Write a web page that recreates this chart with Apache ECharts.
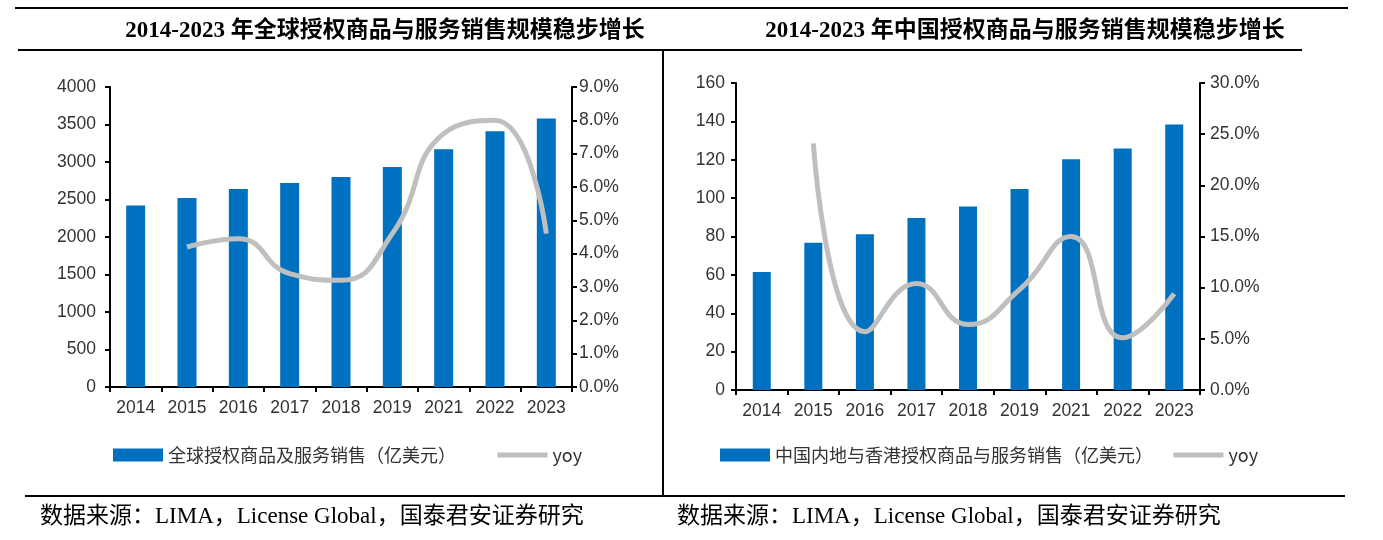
<!DOCTYPE html>
<html>
<head>
<meta charset="utf-8">
<script src="https://cdn.jsdelivr.net/npm/echarts@6/dist/echarts.min.js"></script>
<style>
  html, body { margin: 0; padding: 0; background: #fff; }
  #main { width: 1383px; height: 540px; }
</style>
</head>
<body>
<div id="main"></div>
<script>
// data
var years = ['2014', '2015', '2016', '2017', '2018', '2019', '2021', '2022', '2023'];
var globalSales = [2420, 2520, 2640, 2720, 2800, 2935, 3170, 3410, 3580];
var globalYoy = [null, 4.2, 4.45, 3.4, 3.2, 4.6, 7.6, 8.0, 4.6];
var chinaSales = [61.5, 76.7, 81.2, 89.7, 95.7, 104.7, 120.2, 125.9, 138.4];
var chinaYoy = [null, 24.1, 5.7, 10.4, 6.4, 9.8, 15.0, 5.1, 9.4];

var globalName = '全球授权商品及服务销售（亿美元）';
var chinaName = '中国内地与香港授权商品与服务销售（亿美元）';
var titleLeft = '2014-2023 年全球授权商品与服务销售规模稳步增长';
var titleRight = '2014-2023 年中国授权商品与服务销售规模稳步增长';
var sourceText = '数据来源：LIMA，License Global，国泰君安证券研究';

var barColor = '#0070C0';
var lineColor = '#BFBFBF';
var labelColor = '#333';
var axisFont = 'Liberation Sans';
var axisSize = 17.5;
var titleFont = 'bold 23px "Liberation Serif", "Noto Sans CJK SC"';
var srcFont = '23px "Liberation Serif", "Noto Sans CJK SC"';

var myChart = echarts.init(document.getElementById('main'), null, { renderer: 'canvas' });

function catAxis(gi) {
    return {
        type: 'category',
        gridIndex: gi,
        data: years,
        axisLine: { lineStyle: { color: '#000', width: 2 } },
        axisTick: { show: true, length: 5, lineStyle: { color: '#000', width: 2 } },
        axisLabel: { color: labelColor, fontSize: axisSize, fontFamily: axisFont, margin: 12 }
    };
}

function valAxis(gi, pos, max, step, pct, margin) {
    return {
        type: 'value',
        gridIndex: gi,
        position: pos,
        min: 0,
        max: max,
        interval: step,
        splitLine: { show: false },
        axisLine: { show: true, lineStyle: { color: '#000', width: 2 } },
        axisTick: { show: true, length: 5, lineStyle: { color: '#000', width: 2 } },
        axisLabel: {
            color: labelColor,
            fontSize: axisSize,
            fontFamily: axisFont,
            margin: margin,
            formatter: function (v) { return pct ? v.toFixed(1) + '%' : String(v); }
        }
    };
}

function hline(x1, x2, y) {
    return { type: 'line', shape: { x1: x1, y1: y, x2: x2, y2: y }, style: { stroke: '#000', lineWidth: 2 } };
}

var legendText = { color: labelColor, fontSize: 18, fontFamily: 'Noto Sans CJK SC' };

function yoyLabel(n) {
    return n.indexOf('yoy') === 0 ? 'yoy' : n;
}

var option = {
    animation: false,
    grid: [
        { left: 110, top: 87, width: 462, height: 300 },
        { left: 736, top: 83, width: 464, height: 307 }
    ],
    xAxis: [catAxis(0), catAxis(1)],
    yAxis: [
        valAxis(0, 'left', 4000, 500, false, 14),
        valAxis(0, 'right', 9, 1, true, 7),
        valAxis(1, 'left', 160, 20, false, 11),
        valAxis(1, 'right', 30, 5, true, 10)
    ],
    legend: [
        {
            left: 113, top: 446, padding: 0,
            itemWidth: 50, itemHeight: 13, itemGap: 39,
            textStyle: legendText,
            data: [
                { name: globalName, icon: 'rect' },
                { name: 'yoy_g', itemStyle: { opacity: 0 }, lineStyle: { width: 5, color: lineColor } }
            ],
            formatter: yoyLabel
        },
        {
            left: 720, top: 446, padding: 0,
            itemWidth: 50, itemHeight: 13, itemGap: 18,
            textStyle: legendText,
            data: [
                { name: chinaName, icon: 'rect' },
                { name: 'yoy_c', itemStyle: { opacity: 0 }, lineStyle: { width: 5, color: lineColor } }
            ],
            formatter: yoyLabel
        }
    ],
    series: [
        {
            name: globalName, type: 'bar', xAxisIndex: 0, yAxisIndex: 0,
            data: globalSales, barWidth: 19,
            itemStyle: { color: barColor }
        },
        {
            name: 'yoy_g', type: 'line', xAxisIndex: 0, yAxisIndex: 1,
            data: globalYoy, smooth: 0.5, showSymbol: false,
            lineStyle: { color: lineColor, width: 5 },
            itemStyle: { color: lineColor }
        },
        {
            name: chinaName, type: 'bar', xAxisIndex: 1, yAxisIndex: 2,
            data: chinaSales, barWidth: 18,
            itemStyle: { color: barColor }
        },
        {
            name: 'yoy_c', type: 'line', xAxisIndex: 1, yAxisIndex: 3,
            data: chinaYoy, smooth: 0.5, showSymbol: false,
            lineStyle: { color: lineColor, width: 5 },
            itemStyle: { color: lineColor }
        }
    ],
    graphic: [
        hline(15, 1348, 8),
        hline(18, 1302, 50),
        hline(25, 1345, 496),
        { type: 'line', shape: { x1: 663, y1: 50, x2: 663, y2: 496 }, style: { stroke: '#000', lineWidth: 2 } },
        {
            type: 'text', x: 385, y: 31,
            style: { text: titleLeft, font: titleFont, fill: '#000', textAlign: 'center', textVerticalAlign: 'middle' }
        },
        {
            type: 'text', x: 1025, y: 31,
            style: { text: titleRight, font: titleFont, fill: '#000', textAlign: 'center', textVerticalAlign: 'middle' }
        },
        {
            type: 'text', x: 40, y: 517,
            style: { text: sourceText, font: srcFont, fill: '#000', textAlign: 'left', textVerticalAlign: 'middle' }
        },
        {
            type: 'text', x: 677, y: 517,
            style: { text: sourceText, font: srcFont, fill: '#000', textAlign: 'left', textVerticalAlign: 'middle' }
        }
    ]
};

if (option && typeof option === 'object') {
    myChart.setOption(option);
}

window.addEventListener('resize', myChart.resize);
</script>
</body>
</html>
